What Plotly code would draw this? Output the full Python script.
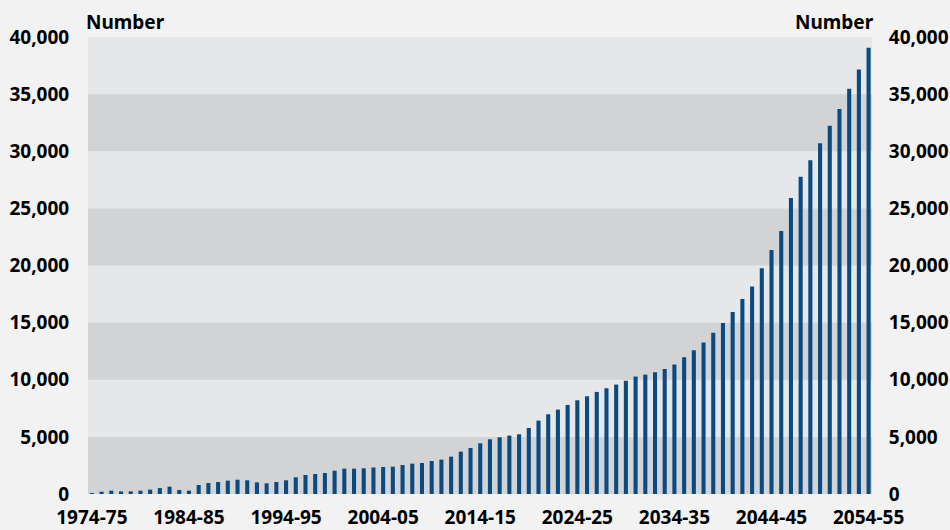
import plotly.graph_objects as go

start_years = list(range(1974, 2055))
categories = [f"{y}-{(y + 1) % 100:02d}" for y in start_years]

values = [
    80, 200, 290, 230, 230, 290, 380, 520, 640, 350,
    290, 790, 960, 1050, 1170, 1250, 1200, 1020, 930, 1050,
    1200, 1460, 1660, 1750, 1840, 2040, 2220, 2220, 2250, 2320,
    2365, 2394, 2540, 2657, 2716, 2891, 3008, 3270, 3708, 4030,
    4438, 4789, 4964, 5110, 5227, 5782, 6424, 6979, 7388, 7796,
    8205, 8556, 8935, 9256, 9578, 9910, 10280, 10450, 10660, 10940,
    11344, 11965, 12585, 13264, 14121, 14978, 15923, 17075, 18168, 19764,
    21359, 23013, 25908, 27770, 29217, 30694, 32230, 33708, 35480, 37164,
    39055,
]

tick_labels = categories[::10]
y_ticks = [0, 5000, 10000, 15000, 20000, 25000, 30000, 35000, 40000]
y_tick_text = [f"{v:,}" for v in y_ticks]

BAR = "#0b4a81"
PAGE = "#f2f2f2"
LIGHT = "#e6e7e9"
DARK = "#d2d3d5"
FONT = "Noto Sans"

fig = go.Figure()
fig.add_trace(go.Bar(x=categories, y=values, marker=dict(color=BAR, line=dict(width=0)),
                     width=0.42, hoverinfo="x+y"))
# invisible trace to activate right axis
fig.add_trace(go.Bar(x=categories, y=values, yaxis="y2", opacity=0, width=0.42,
                     marker=dict(color=BAR), hoverinfo="skip", showlegend=False))

shapes = []
for i in range(0, len(y_ticks) - 1):
    if i % 2 == 0:
        shapes.append(dict(type="rect", xref="paper", yref="y", x0=0, x1=1,
                           y0=y_ticks[i], y1=y_ticks[i + 1], fillcolor=DARK,
                           line=dict(width=0), layer="below"))

tickfont = dict(family=FONT, size=19, color="#000000", weight="bold")

fig.update_layout(
    width=950, height=530,
    margin=dict(l=88, r=78, t=37, b=36),
    paper_bgcolor=PAGE, plot_bgcolor=LIGHT,
    showlegend=False, barmode="overlay",
    shapes=shapes,
    xaxis=dict(type="category", categoryorder="array", categoryarray=categories,
               range=[-0.4, 80.35], tickmode="array", tickvals=tick_labels,
               ticktext=tick_labels, tickfont=tickfont, ticks="outside",
               ticklen=6, tickcolor="rgba(0,0,0,0)", showgrid=False,
               zeroline=False, showline=False, tickangle=0, automargin=False),
    yaxis=dict(range=[0, 40000], tickvals=y_ticks, ticktext=y_tick_text,
               tickfont=tickfont, showgrid=False, zeroline=False,
               ticks="outside", ticklen=14, tickcolor="rgba(0,0,0,0)",
               automargin=False),
    yaxis2=dict(range=[0, 40000], tickvals=y_ticks, ticktext=y_tick_text,
                tickfont=tickfont, overlaying="y", side="right", showgrid=False,
                zeroline=False, ticks="outside", ticklen=12,
                tickcolor="rgba(0,0,0,0)", automargin=False),
    annotations=[
        dict(text="Number", xref="paper", yref="paper", x=0, y=1, xanchor="left",
             yanchor="bottom", yshift=0, xshift=-4, showarrow=False,
             font=dict(family=FONT, size=19, color="#000000", weight="bold")),
        dict(text="Number", xref="paper", yref="paper", x=1, y=1, xanchor="right",
             yanchor="bottom", yshift=0, xshift=4, showarrow=False,
             font=dict(family=FONT, size=19, color="#000000", weight="bold")),
    ],
)

fig.write_html(
    "out.html",
    config={"displayModeBar": False},
    post_script="document.body.style.margin='0';document.body.style.background='#f2f2f2';",
)
